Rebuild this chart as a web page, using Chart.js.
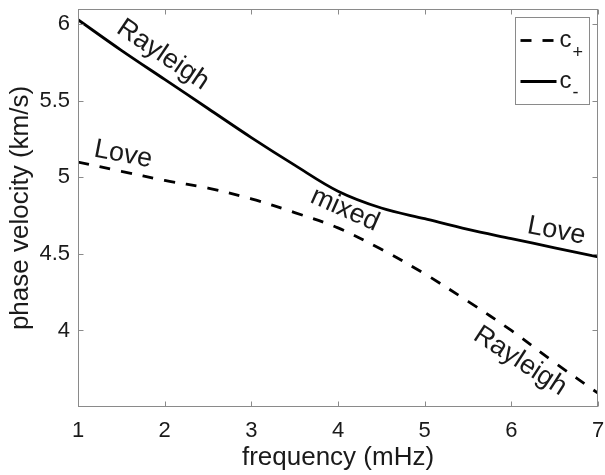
<!DOCTYPE html>
<html>
<head>
<meta charset="utf-8">
<script src="https://cdn.jsdelivr.net/npm/chart.js@4/dist/chart.umd.min.js"></script>
<style>
  html, body { margin: 0; padding: 0; background: #fff; }
  #wrap { width: 605px; height: 475px; }
</style>
</head>
<body>
<div id="wrap"><canvas id="chart" width="605" height="475"></canvas></div>
<script>
// Dispersion branches: phase velocity (km/s) against frequency (mHz)
const frequency = [1, 1.5, 2, 2.5, 3, 3.5, 4, 4.5, 5, 5.5, 6, 6.5, 7];
const cPlus  = [5.10, 5.04, 4.98, 4.93, 4.86, 4.77, 4.67, 4.53, 4.37, 4.19, 4.00, 3.79, 3.59];
const cMinus = [6.03, 5.83, 5.64, 5.45, 5.26, 5.08, 4.91, 4.80, 4.73, 4.66, 4.60, 4.54, 4.48];

const xTicks = [1, 2, 3, 4, 5, 6, 7];
const yTicks = [4, 4.5, 5, 5.5, 6];

// Mode names written along the branches (data coordinates, rotation in degrees)
const modeText  = ['Rayleigh', 'Love', 'mixed', 'Love', 'Rayleigh'];
const modeFreq  = [1.98, 1.52, 4.08, 6.52, 6.10];
const modeVel   = [5.80, 5.15, 4.79, 4.65, 3.80];
const modeAngle = [34, 11, 24, 11, 33];

const FONT = '"Liberation Sans", Arial, Helvetica, sans-serif';
const AXIS_GREY = '#8a8a8a';
const INK = '#1a1a1a';

const toPoints = (xs, ys) => xs.map((x, i) => ({ x: x, y: ys[i] }));

// Box around the plot area with inward tick marks on all four sides
const boxPlugin = {
  id: 'box',
  afterDatasetsDraw(chart) {
    const { ctx, chartArea: a, scales } = chart;
    const L = Math.round(a.left) + 0.5, R = Math.round(a.right) - 0.5;
    const T = Math.round(a.top) + 0.5, B = Math.round(a.bottom) - 0.5;
    ctx.save();
    ctx.strokeStyle = AXIS_GREY;
    ctx.lineWidth = 1;
    ctx.strokeRect(L, T, R - L, B - T);
    ctx.beginPath();
    xTicks.forEach(v => {
      const px = Math.round(scales.x.getPixelForValue(v)) + 0.5;
      ctx.moveTo(px, B); ctx.lineTo(px, B - 5);
      ctx.moveTo(px, T); ctx.lineTo(px, T + 5);
    });
    yTicks.forEach(v => {
      const py = Math.round(scales.y.getPixelForValue(v)) + 0.5;
      ctx.moveTo(L, py); ctx.lineTo(L + 5, py);
      ctx.moveTo(R, py); ctx.lineTo(R - 5, py);
    });
    ctx.stroke();
    ctx.restore();
  }
};

// Rotated mode labels placed through the scales
const modePlugin = {
  id: 'modes',
  afterDatasetsDraw(chart) {
    const { ctx, scales } = chart;
    ctx.save();
    ctx.fillStyle = INK;
    ctx.font = '27px ' + FONT;
    ctx.textAlign = 'center';
    ctx.textBaseline = 'middle';
    modeText.forEach((t, i) => {
      const px = scales.x.getPixelForValue(modeFreq[i]);
      const py = scales.y.getPixelForValue(modeVel[i]);
      ctx.save();
      ctx.translate(px, py);
      ctx.rotate(modeAngle[i] * Math.PI / 180);
      ctx.fillText(t, 0, 0);
      ctx.restore();
    });
    ctx.restore();
  }
};

// Legend box with subscripted series names
const legendPlugin = {
  id: 'subLegend',
  afterDraw(chart) {
    const { ctx, chartArea: a } = chart;
    const bx = Math.round(a.right - 83) + 0.5, by = Math.round(a.top + 8) + 0.5;
    const bw = 74, bh = 87;
    ctx.save();
    ctx.fillStyle = '#fff';
    ctx.fillRect(bx, by, bw, bh);
    ctx.strokeStyle = AXIS_GREY;
    ctx.lineWidth = 1;
    ctx.strokeRect(bx, by, bw, bh);
    const rows = [
      { ds: chart.data.datasets[0], y: by + 23, sub: '+', subDy: 11 },
      { ds: chart.data.datasets[1], y: by + 64, sub: '-', subDy: 10 }
    ];
    rows.forEach(r => {
      ctx.save();
      ctx.strokeStyle = r.ds.borderColor;
      ctx.lineWidth = r.ds.borderWidth;
      ctx.setLineDash(r.ds.borderDash || []);
      ctx.beginPath();
      ctx.moveTo(bx + 5, r.y);
      ctx.lineTo(bx + 41, r.y);
      ctx.stroke();
      ctx.restore();
      ctx.fillStyle = INK;
      ctx.textAlign = 'left';
      ctx.textBaseline = 'alphabetic';
      ctx.font = '24px ' + FONT;
      ctx.fillText('c', bx + 44, r.y + 6);
      ctx.font = '18px ' + FONT;
      ctx.fillText(r.sub, bx + 57, r.y + 6 + r.subDy);
    });
    ctx.restore();
  }
};

new Chart(document.getElementById('chart'), {
  type: 'line',
  data: {
    datasets: [
      {
        label: 'c+',
        data: toPoints(frequency, cPlus),
        borderColor: '#000',
        borderWidth: 2.8,
        borderDash: [11, 11],
        pointRadius: 0,
        tension: 0.35,
        fill: false
      },
      {
        label: 'c-',
        data: toPoints(frequency, cMinus),
        borderColor: '#000',
        borderWidth: 2.8,
        pointRadius: 0,
        tension: 0.35,
        fill: false
      }
    ]
  },
  options: {
    responsive: false,
    animation: false,
    devicePixelRatio: 1,
    layout: { padding: { left: 0, right: 7, top: 9, bottom: 0 } },
    plugins: { legend: { display: false }, tooltip: { enabled: false } },
    scales: {
      x: {
        type: 'linear',
        min: 1, max: 7,
        afterBuildTicks: s => { s.ticks = xTicks.map(v => ({ value: v })); },
        afterFit: s => { s.height = 68; s.paddingLeft = 0; s.paddingRight = 0; },
        grid: { display: false, drawTicks: false },
        border: { display: false },
        ticks: { color: INK, font: { family: FONT, size: 22 }, padding: 11, maxRotation: 0 },
        title: { display: true, text: 'frequency (mHz)', color: INK,
                 font: { family: FONT, size: 26 }, padding: { top: 0, bottom: 2 } }
      },
      y: {
        type: 'linear',
        min: 3.5, max: 6.1,
        afterBuildTicks: s => { s.ticks = yTicks.map(v => ({ value: v })); },
        afterFit: s => { s.width = 78; s.paddingTop = 0; s.paddingBottom = 0; },
        grid: { display: false, drawTicks: false },
        border: { display: false },
        ticks: { color: INK, font: { family: FONT, size: 22 }, padding: 8,
                 callback: v => String(v) },
        title: { display: true, text: 'phase velocity (km/s)', color: INK,
                 font: { family: FONT, size: 26 }, padding: { top: 5, bottom: 0 } }
      }
    }
  },
  plugins: [boxPlugin, modePlugin, legendPlugin]
});
</script>
</body>
</html>
